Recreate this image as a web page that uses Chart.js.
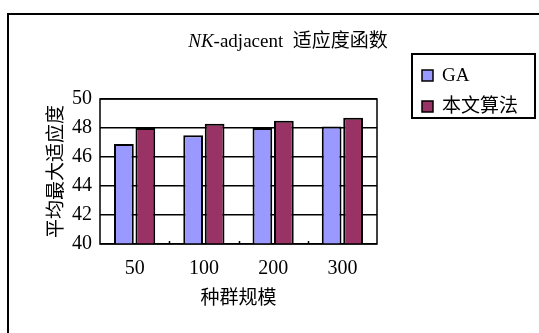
<!DOCTYPE html>
<html>
<head>
<meta charset="utf-8">
<script src="https://cdn.jsdelivr.net/npm/chart.js@4/dist/chart.umd.min.js"></script>
<style>
  html, body { margin: 0; padding: 0; background: #ffffff; }
  #wrap { width: 539px; height: 333px; }
</style>
</head>
<body>
<div id="wrap"><canvas id="c" width="539" height="333"></canvas></div>
<script>
// Population sizes on the x axis
const categories = ['50', '100', '200', '300'];
// Mean best fitness per population size
const gaValues = [46.9, 47.5, 48.0, 48.1];
const oursValues = [48.0, 48.3, 48.5, 48.7];
const seriesNames = ['GA', '本文算法'];
const yTicks = [40, 42, 44, 46, 48, 50];

const titleItalic = 'NK';
const titleRest = '-adjacent  适应度函数';
const xTitle = '种群规模';
const yTitle = '平均最大适应度';

const FONT = '"Liberation Serif", "Times New Roman", "Noto Sans CJK SC", serif';

// Outer frame, title, legend box and plot border drawn on the canvas
const decor = {
  id: 'decor',
  beforeDraw(chart) {
    const ctx = chart.ctx;
    ctx.save();
    ctx.fillStyle = '#ffffff';
    ctx.fillRect(0, 0, chart.width, chart.height);
    ctx.restore();
  },
  afterDatasetsDraw(chart) {
    const ctx = chart.ctx;
    const a = chart.chartArea;
    ctx.save();
    // plot border
    ctx.strokeStyle = '#000';
    ctx.lineWidth = 1.5;
    ctx.strokeRect(a.left, a.top, a.right - a.left, a.bottom - a.top);
    // small inward ticks between categories
    const xs = chart.scales.x;
    for (let i = 1; i < categories.length; i++) {
      const x = (xs.getPixelForTick(i - 1) + xs.getPixelForTick(i)) / 2;
      ctx.beginPath();
      ctx.moveTo(Math.round(x) + 0.5, a.bottom);
      ctx.lineTo(Math.round(x) + 0.5, a.bottom - 3);
      ctx.stroke();
    }
    ctx.restore();
  },
  afterDraw(chart) {
    const ctx = chart.ctx;
    ctx.save();
    // outer frame (runs off the right and bottom edges)
    ctx.strokeStyle = '#000';
    ctx.lineWidth = 2;
    ctx.beginPath();
    ctx.moveTo(chart.width + 5, 14);
    ctx.lineTo(8, 14);
    ctx.lineTo(8, chart.height + 5);
    ctx.stroke();

    // title
    ctx.fillStyle = '#000';
    ctx.textBaseline = 'middle';
    ctx.textAlign = 'left';
    const fi = 'italic 19px ' + FONT;
    const fn = '19px ' + FONT;
    ctx.font = fi;
    const w1 = ctx.measureText(titleItalic).width;
    ctx.font = fn;
    const w2 = ctx.measureText(titleRest).width;
    const cx = 288;
    const x0 = cx - (w1 + w2) / 2;
    ctx.font = fi;
    ctx.fillText(titleItalic, x0, 42);
    ctx.font = fn;
    ctx.fillText(titleRest, x0 + w1, 42);

    // legend
    const lx = 412, ly = 54, lw = 123, lh = 64;
    ctx.lineWidth = 2;
    ctx.strokeStyle = '#000';
    ctx.strokeRect(lx, ly, lw, lh);
    const ds = chart.data.datasets;
    const rowsY = [75, 106];
    ds.forEach((d, i) => {
      const y = rowsY[i];
      ctx.fillStyle = d.backgroundColor;
      ctx.fillRect(422, y - 5, 11, 11);
      ctx.lineWidth = 1.5;
      ctx.strokeStyle = '#000';
      ctx.strokeRect(422, y - 5, 11, 11);
      ctx.fillStyle = '#000';
      ctx.font = '19px ' + FONT;
      ctx.textBaseline = 'middle';
      ctx.fillText(d.label, 442, y + 1);
    });
    ctx.restore();
  }
};

new Chart(document.getElementById('c'), {
  type: 'bar',
  data: {
    labels: categories,
    datasets: [
      {
        label: seriesNames[0],
        data: gaValues,
        backgroundColor: '#9999ff',
        borderColor: '#000',
        borderWidth: 2,
        borderSkipped: false,
        categoryPercentage: 0.62,
        barPercentage: 0.92
      },
      {
        label: seriesNames[1],
        data: oursValues,
        backgroundColor: '#993366',
        borderColor: '#000',
        borderWidth: 2,
        borderSkipped: false,
        categoryPercentage: 0.62,
        barPercentage: 0.92
      }
    ]
  },
  options: {
    responsive: false,
    animation: false,
    devicePixelRatio: 1,
    layout: { padding: { left: 40, top: 99, right: 162, bottom: 0 } },
    plugins: {
      legend: { display: false },
      title: { display: false },
      tooltip: { enabled: false }
    },
    scales: {
      x: {
        grid: { display: false },
        border: { display: false },
        ticks: { color: '#000', font: { family: FONT, size: 20 }, padding: 5 },
        title: {
          display: true, text: xTitle, color: '#000',
          font: { family: FONT, size: 19 },
          padding: { top: 0, bottom: 23 }
        },
        afterFit(s) { s.height = 89; }
      },
      y: {
        min: 40, max: 50,
        afterBuildTicks(s) { s.ticks = yTicks.map(v => ({ value: v })); },
        grid: { color: '#000', lineWidth: 1.5, drawTicks: false },
        border: { display: false },
        ticks: { color: '#000', font: { family: FONT, size: 20 }, padding: 8 },
        title: {
          display: true, text: yTitle, color: '#000',
          font: { family: FONT, size: 19 },
          padding: { top: 6, bottom: 0 }
        },
        afterFit(s) { s.width = 60; }
      }
    }
  },
  plugins: [decor]
});
</script>
</body>
</html>
